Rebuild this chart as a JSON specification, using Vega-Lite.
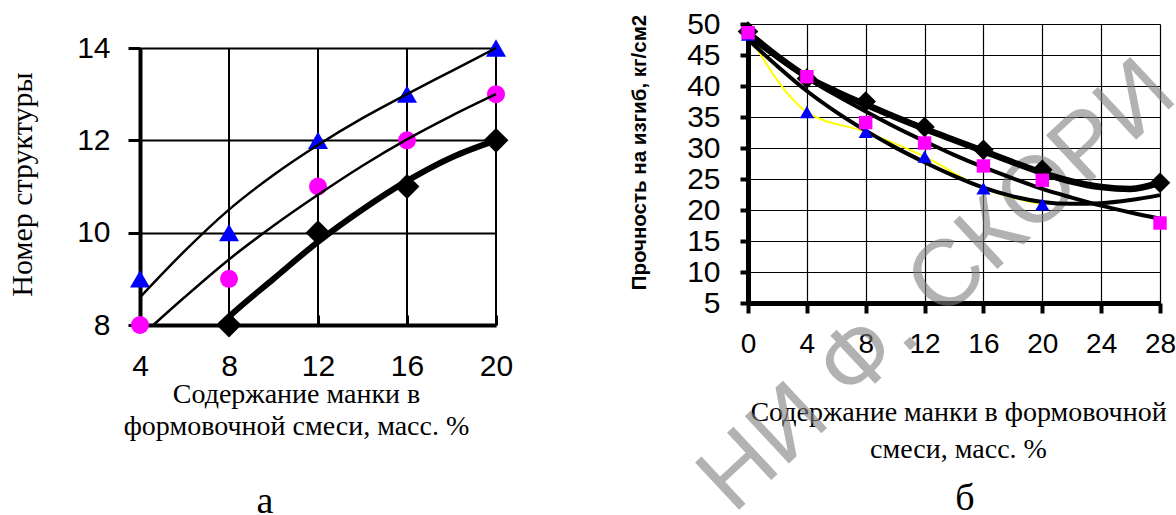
{
  "$schema": "https://vega.github.io/schema/vega-lite/v6.json",
  "background": "white",
  "padding": {"left": 7, "top": 9, "right": 0, "bottom": 0},
  "autosize": {"type": "pad"},
  "bounds": "flush",
  "spacing": 252,
  "config": {
    "view": {"stroke": null},
    "axis": {
      "labelFont": "Liberation Sans", "titleFont": "Liberation Serif", "titleFontWeight": "normal",
      "labelColor": "#000000", "titleColor": "#000000", "domainColor": "#000000", "tickColor": "#000000",
      "gridColor": "#000000", "gridOpacity": 1, "labelFlush": false, "labelOverlap": false, "labelAngle": 0
    },
    "title": {"font": "Liberation Serif", "fontSize": 38, "fontWeight": "normal", "color": "#000000"}
  },
  "datasets": {
    "a_pts": [
      {"s": "tri", "x": 4, "y": 9}, {"s": "tri", "x": 8, "y": 10}, {"s": "tri", "x": 12, "y": 12}, {"s": "tri", "x": 16, "y": 13}, {"s": "tri", "x": 20, "y": 14},
      {"s": "circ", "x": 4, "y": 8}, {"s": "circ", "x": 8, "y": 9}, {"s": "circ", "x": 12, "y": 11}, {"s": "circ", "x": 16, "y": 12}, {"s": "circ", "x": 20, "y": 13},
      {"s": "diam", "x": 8, "y": 8}, {"s": "diam", "x": 12, "y": 10}, {"s": "diam", "x": 16, "y": 11}, {"s": "diam", "x": 20, "y": 12}
    ],
    "a_fit": [
      {"c": "tri", "x": 4, "y": 8.6}, {"c": "tri", "x": 6, "y": 9.6}, {"c": "tri", "x": 8, "y": 10.5}, {"c": "tri", "x": 10, "y": 11.25}, {"c": "tri", "x": 12, "y": 11.9}, {"c": "tri", "x": 14, "y": 12.48}, {"c": "tri", "x": 16, "y": 13.0}, {"c": "tri", "x": 18, "y": 13.5}, {"c": "tri", "x": 20, "y": 14.0},
      {"c": "circ", "x": 4.6, "y": 8.0}, {"c": "circ", "x": 6, "y": 8.6}, {"c": "circ", "x": 8, "y": 9.42}, {"c": "circ", "x": 10, "y": 10.15}, {"c": "circ", "x": 12, "y": 10.82}, {"c": "circ", "x": 14, "y": 11.45}, {"c": "circ", "x": 16, "y": 12.02}, {"c": "circ", "x": 18, "y": 12.53}, {"c": "circ", "x": 20, "y": 13.0},
      {"c": "diam", "x": 7.6, "y": 8.0}, {"c": "diam", "x": 8, "y": 8.18}, {"c": "diam", "x": 10, "y": 9.0}, {"c": "diam", "x": 12, "y": 9.8}, {"c": "diam", "x": 14, "y": 10.5}, {"c": "diam", "x": 16, "y": 11.12}, {"c": "diam", "x": 18, "y": 11.63}, {"c": "diam", "x": 20, "y": 12.0}
    ],
    "b_pts": [
      {"s": "diam", "x": 0, "y": 48.8}, {"s": "diam", "x": 4, "y": 41.2}, {"s": "diam", "x": 8, "y": 37.5}, {"s": "diam", "x": 12, "y": 33.4}, {"s": "diam", "x": 16, "y": 29.7}, {"s": "diam", "x": 20, "y": 26.5}, {"s": "diam", "x": 28, "y": 24.4},
      {"s": "tri", "x": 0, "y": 48.3}, {"s": "tri", "x": 4, "y": 35.8}, {"s": "tri", "x": 8, "y": 32.6}, {"s": "tri", "x": 12, "y": 28.6}, {"s": "tri", "x": 16, "y": 23.5}, {"s": "tri", "x": 20, "y": 20.9},
      {"s": "sq", "x": 0, "y": 48.6}, {"s": "sq", "x": 4, "y": 41.5}, {"s": "sq", "x": 8, "y": 34.1}, {"s": "sq", "x": 12, "y": 30.8}, {"s": "sq", "x": 16, "y": 27.1}, {"s": "sq", "x": 20, "y": 24.8}, {"s": "sq", "x": 28, "y": 17.9}
    ],
    "b_fit": [
      {"c": "diam", "x": 0, "y": 48.6}, {"c": "diam", "x": 2, "y": 44.8}, {"c": "diam", "x": 4, "y": 41.5}, {"c": "diam", "x": 6, "y": 39.1}, {"c": "diam", "x": 8, "y": 37.0}, {"c": "diam", "x": 10, "y": 35.0}, {"c": "diam", "x": 12, "y": 33.1}, {"c": "diam", "x": 14, "y": 31.3}, {"c": "diam", "x": 16, "y": 29.5}, {"c": "diam", "x": 18, "y": 27.7}, {"c": "diam", "x": 20, "y": 26.0}, {"c": "diam", "x": 22, "y": 24.6}, {"c": "diam", "x": 24, "y": 23.7}, {"c": "diam", "x": 26, "y": 23.4}, {"c": "diam", "x": 28, "y": 24.4},
      {"c": "sq", "x": 0, "y": 48.0}, {"c": "sq", "x": 2, "y": 44.5}, {"c": "sq", "x": 4, "y": 41.3}, {"c": "sq", "x": 6, "y": 38.5}, {"c": "sq", "x": 8, "y": 35.9}, {"c": "sq", "x": 10, "y": 33.4}, {"c": "sq", "x": 12, "y": 31.1}, {"c": "sq", "x": 14, "y": 28.9}, {"c": "sq", "x": 16, "y": 26.9}, {"c": "sq", "x": 18, "y": 25.1}, {"c": "sq", "x": 20, "y": 23.4}, {"c": "sq", "x": 22, "y": 22.0}, {"c": "sq", "x": 24, "y": 20.7}, {"c": "sq", "x": 26, "y": 19.6}, {"c": "sq", "x": 28, "y": 18.6},
      {"c": "tri", "x": 0, "y": 47.5}, {"c": "tri", "x": 2, "y": 43.2}, {"c": "tri", "x": 4, "y": 39.2}, {"c": "tri", "x": 6, "y": 35.8}, {"c": "tri", "x": 8, "y": 32.8}, {"c": "tri", "x": 10, "y": 30.1}, {"c": "tri", "x": 12, "y": 27.7}, {"c": "tri", "x": 14, "y": 25.5}, {"c": "tri", "x": 16, "y": 23.6}, {"c": "tri", "x": 18, "y": 22.2}, {"c": "tri", "x": 20, "y": 21.3}, {"c": "tri", "x": 22, "y": 21.0}, {"c": "tri", "x": 24, "y": 21.1}, {"c": "tri", "x": 26, "y": 21.6}, {"c": "tri", "x": 28, "y": 22.4}
    ],
    "watermark": [
      {"text": "НИ Ф. СКОРИ", "x": -0.98, "y": -29.2}
    ]
  },
  "hconcat": [
    {
      "width": 356,
      "height": 301,
      "title": {"text": "а", "orient": "bottom", "dx": -53, "offset": 43},
      "encoding": {
        "x": {
          "field": "x", "type": "quantitative",
          "scale": {"domain": [4, 20], "nice": false, "zero": false},
          "axis": {
            "values": [4, 8, 12, 16, 20], "grid": false, "domainWidth": 4,
            "ticks": true, "tickSize": -10, "tickWidth": 3,
            "labelFontSize": 30, "labelPadding": 36,
            "title": ["Содержание манки в", "формовочной смеси, масс. %"],
            "titleFontSize": 28, "titleX": 156, "titleY": 77, "titleAlign": "center",
            "titleBaseline": "alphabetic", "titleLineHeight": 32
          }
        },
        "y": {
          "field": "y", "type": "quantitative",
          "scale": {"domain": [8, 14], "range": [301, 24], "nice": false, "zero": false},
          "axis": {
            "values": [8, 10, 12, 14], "grid": true, "gridWidth": 2, "domainWidth": 4,
            "tickSize": 12, "tickWidth": 3,
            "labelFontSize": 30, "labelPadding": 18,
            "title": "Номер структуры", "titleFontSize": 30,
            "titleX": -118, "titleY": 160, "titleAlign": "center", "titleBaseline": "middle"
          }
        }
      },
      "layer": [
        {"data": {"name": "a_pts"}, "transform": [{"filter": "datum.s === 'tri'"}],
         "mark": {"type": "rule", "color": "#000000", "strokeWidth": 2},
         "encoding": {"y": {"datum": 8}, "y2": {"datum": 14}}},
        {"data": {"name": "a_pts"}, "transform": [{"filter": "datum.s === 'tri'"}],
         "mark": {"type": "point", "shape": "triangle-up", "filled": true, "size": 400, "color": "#0000ff", "opacity": 1}},
        {"data": {"name": "a_pts"}, "transform": [{"filter": "datum.s === 'circ'"}],
         "mark": {"type": "point", "shape": "circle", "filled": true, "size": 324, "color": "#ff00ff", "opacity": 1}},
        {"data": {"name": "a_pts"}, "transform": [{"filter": "datum.s === 'diam'"}],
         "mark": {"type": "point", "shape": "diamond", "filled": true, "size": 620, "color": "#000000", "opacity": 1}},
        {"data": {"name": "a_fit"}, "transform": [{"filter": "datum.c !== 'diam'"}],
         "mark": {"type": "line", "interpolate": "monotone", "color": "#000000", "strokeWidth": 2.5},
         "encoding": {"detail": {"field": "c", "type": "nominal"}}},
        {"data": {"name": "a_fit"}, "transform": [{"filter": "datum.c === 'diam'"}],
         "mark": {"type": "line", "interpolate": "monotone", "color": "#000000", "strokeWidth": 6}}
      ]
    },
    {
      "width": 412,
      "height": 279,
      "title": {"text": "б", "orient": "bottom", "dx": 11, "offset": -49},
      "encoding": {
        "x": {
          "field": "x", "type": "quantitative",
          "scale": {"domain": [0, 28], "nice": false, "zero": false},
          "axis": {
            "values": [0, 4, 8, 12, 16, 20, 24, 28], "grid": true, "gridWidth": 1.2, "domainWidth": 5,
            "ticks": true, "tickSize": 10, "tickWidth": 4,
            "labelFontSize": 28, "labelPadding": 17,
            "title": ["Содержание манки в формовочной", "смеси, масс. %"],
            "titleFontSize": 28, "titleX": 210, "titleY": 117, "titleAlign": "center",
            "titleBaseline": "alphabetic", "titleLineHeight": 37
          }
        },
        "y": {
          "field": "y", "type": "quantitative",
          "scale": {"domain": [5, 50], "nice": false, "zero": false},
          "axis": {
            "values": [5, 10, 15, 20, 25, 30, 35, 40, 45, 50], "grid": true, "gridWidth": 1.2, "domainWidth": 5,
            "tickSize": 8, "tickWidth": 4,
            "labelFontSize": 30, "labelPadding": 20,
            "title": "Прочность на изгиб, кг/см2", "titleFont": "Liberation Sans", "titleFontWeight": "bold",
            "titleFontSize": 20.5, "titleX": -109, "titleY": 128, "titleAlign": "center", "titleBaseline": "middle"
          }
        }
      },
      "layer": [
        {"data": {"name": "watermark"},
         "mark": {"type": "text", "font": "Liberation Sans", "fontSize": 94, "angle": -43, "align": "left", "baseline": "alphabetic", "color": "#7f7f7f", "opacity": 0.6},
         "encoding": {"text": {"field": "text", "type": "nominal"}}},
        {"data": {"name": "b_pts"}, "transform": [{"filter": "datum.s === 'tri'"}],
         "mark": {"type": "line", "interpolate": "monotone", "color": "#ffff00", "strokeWidth": 2}},
        {"data": {"name": "b_fit"}, "transform": [{"filter": "datum.c === 'tri'"}],
         "mark": {"type": "line", "interpolate": "monotone", "color": "#000000", "strokeWidth": 4}},
        {"data": {"name": "b_fit"}, "transform": [{"filter": "datum.c === 'sq'"}],
         "mark": {"type": "line", "interpolate": "monotone", "color": "#000000", "strokeWidth": 4}},
        {"data": {"name": "b_fit"}, "transform": [{"filter": "datum.c === 'diam'"}],
         "mark": {"type": "line", "interpolate": "monotone", "color": "#000000", "strokeWidth": 6.5}},
        {"data": {"name": "b_pts"}, "transform": [{"filter": "datum.s === 'diam'"}],
         "mark": {"type": "point", "shape": "diamond", "filled": true, "size": 420, "color": "#000000", "opacity": 1}},
        {"data": {"name": "b_pts"}, "transform": [{"filter": "datum.s === 'tri'"}],
         "mark": {"type": "point", "shape": "triangle-up", "filled": true, "size": 200, "color": "#0000ff", "opacity": 1}},
        {"data": {"name": "b_pts"}, "transform": [{"filter": "datum.s === 'sq'"}],
         "mark": {"type": "point", "shape": "square", "filled": true, "size": 180, "color": "#ff00ff", "opacity": 1}}
      ]
    }
  ]
}
